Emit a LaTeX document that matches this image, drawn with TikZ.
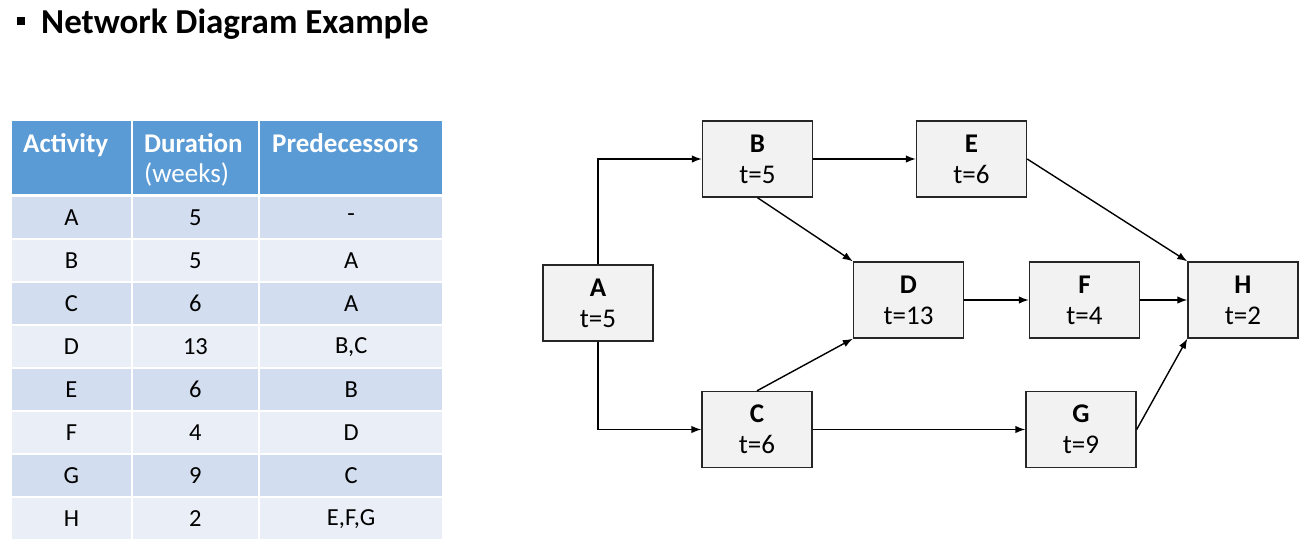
\documentclass[tikz,border=0pt]{standalone}
\usepackage{fontspec}
\setmainfont{Carlito}
\usetikzlibrary{arrows.meta}
\definecolor{headblue}{HTML}{5B9BD5}
\definecolor{row1}{HTML}{D2DEEF}
\definecolor{row0}{HTML}{EAEFF7}
\definecolor{boxgray}{HTML}{F2F2F2}
\tikzset{
  task/.style={draw=black!85, fill=boxgray, line width=1.4pt, minimum width=110pt,
    minimum height=76pt, align=center, inner sep=0pt, font=\fontsize{27}{31}\selectfont},
  link/.style={-{Latex[length=10pt,width=7.5pt]}, line width=1.4pt},
  cell/.style={anchor=north west, inner sep=0pt, minimum height=41pt,
    font=\fontsize{24.5}{28}\selectfont},
  headcell/.style={anchor=north west, inner sep=0pt, minimum height=73pt, fill=headblue},
  headtext/.style={anchor=base west, text=white, inner sep=0pt, font=\fontsize{27}{30}\selectfont}
}
\newcommand\task[2]{\textbf{#1}\\t=#2}

\begin{document}
\begin{tikzpicture}[x=1pt, y=-1pt]
  \useasboundingbox (0,0) rectangle (1310,552);
  % title
  \node[fill, minimum size=8pt, inner sep=0pt] (bullet) at (21,21) {};
  \node[anchor=base west, inner sep=0pt, font=\bfseries\fontsize{35}{40}\selectfont] (title) at (41,33) {Network Diagram Example};

  % table
  \node[headcell, minimum width=118.5pt] (h1) at (12,121) {};
  \node[headcell, minimum width=125.5pt] (h2) at (132.5,121) {};
  \node[headcell, minimum width=182pt] (h3) at (260,121) {};
  \node[headtext] (th1) at (23,152) {\bfseries Activity};
  \node[headtext] (th2) at (144,152) {\bfseries Duration};
  \node[headtext] (th2b) at (144,182) {(weeks)};
  \node[headtext] (th3) at (272,152) {\bfseries Predecessors};
  \foreach \act/\dur/\pre [count=\i] in {A/5/-, B/5/A, C/6/A, D/13/{B,C}, E/6/B, F/4/D, G/9/C, H/2/{E,F,G}} {
    \pgfmathsetmacro\rowtop{197+43*(\i-1)}
    \pgfmathtruncatemacro\rowpar{mod(\i,2)}
    \node[cell, fill=row\rowpar, minimum width=118.5pt] (act\i) at (12,\rowtop) {\act};
    \node[cell, fill=row\rowpar, minimum width=125.5pt] (dur\i) at (132.5,\rowtop) {\dur};
    \node[cell, fill=row\rowpar, minimum width=182pt] (pre\i) at (260,\rowtop) {\pre};
  }

  % network
  \node[task] (A) at (598,303) {\task{A}{5}};
  \node[task] (B) at (757.5,159) {\task{B}{5}};
  \node[task] (C) at (757,429.5) {\task{C}{6}};
  \node[task] (D) at (908.5,300) {\task{D}{13}};
  \node[task] (E) at (971.5,159) {\task{E}{6}};
  \node[task] (F) at (1084.5,300) {\task{F}{4}};
  \node[task] (G) at (1081,429.5) {\task{G}{9}};
  \node[task] (H) at (1243,300) {\task{H}{2}};

  \draw[link] (A.north) |- (B.west);
  \draw[link] (A.south) |- (C.west);
  \draw[link] (B) -- (E);
  \draw[link] (B.south) -- (D.north west);
  \draw[link] (C.north) -- (D.south west);
  \draw[link] (C) -- (G);
  \draw[link] (D) -- (F);
  \draw[link] (F) -- (H);
  \draw[link] (E.east) -- (H.north west);
  \draw[link] (G.east) -- (H.south west);
\end{tikzpicture}
\end{document}
